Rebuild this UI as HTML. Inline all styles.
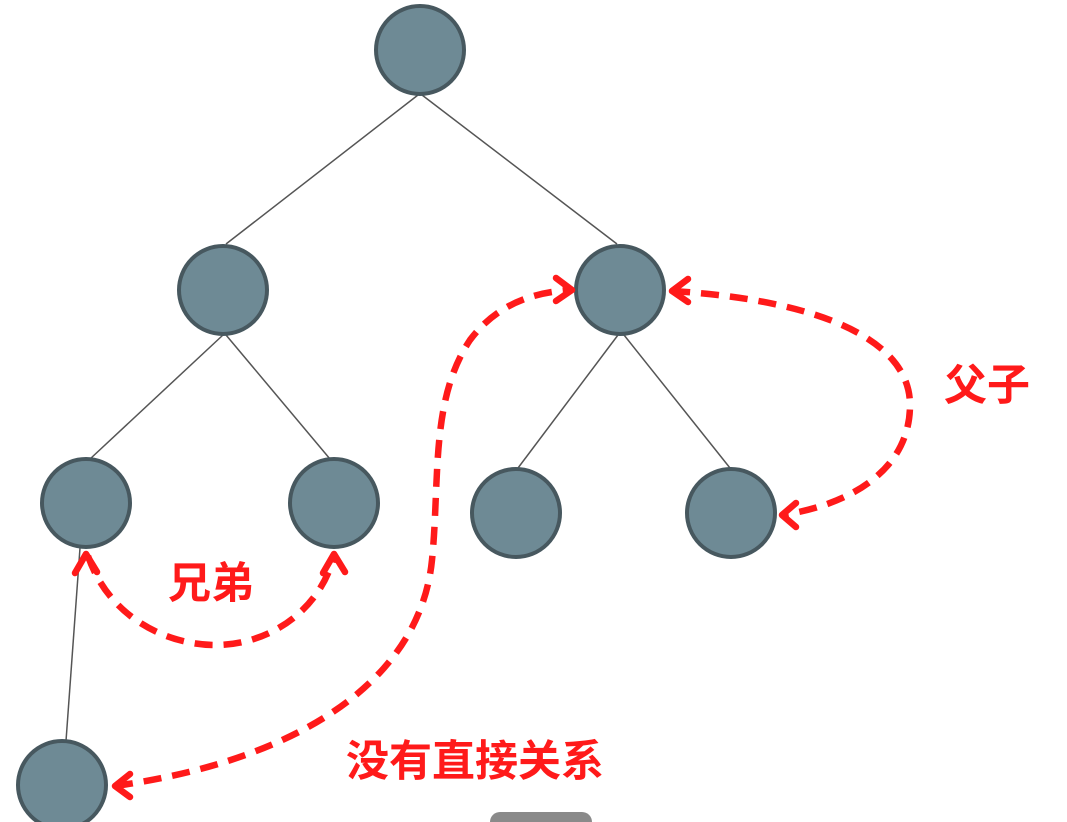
<!DOCTYPE html>
<html><head><meta charset="utf-8"><style>
html,body{margin:0;padding:0;background:#fff;width:1067px;height:822px;overflow:hidden}
text{font-family:"Liberation Sans","Noto Sans CJK SC",sans-serif;font-weight:bold;fill:#ff1a1a;font-size:43px}
</style></head><body>
<svg width="1067" height="822" viewBox="0 0 1067 822">
<g stroke="#555" stroke-width="1.5" fill="none">
<line x1="418" y1="95" x2="226" y2="244"/>
<line x1="422" y1="95" x2="617" y2="244"/>
<line x1="223" y1="335" x2="90" y2="459"/>
<line x1="226" y1="335" x2="330" y2="459"/>
<line x1="618" y1="335" x2="518" y2="468"/>
<line x1="624" y1="335" x2="730" y2="468"/>
<line x1="80" y1="548" x2="66" y2="741"/>
</g>
<g fill="#6e8a95" stroke="#47585f" stroke-width="4">
<circle cx="420" cy="50" r="44"/>
<circle cx="223" cy="290" r="44"/>
<circle cx="620" cy="290" r="44"/>
<circle cx="86" cy="503" r="44"/>
<circle cx="334" cy="503" r="44"/>
<circle cx="516" cy="513" r="44"/>
<circle cx="731" cy="513" r="44"/>
<circle cx="62" cy="785" r="44"/>
</g>
<g stroke="#ff1a1a" stroke-width="6.5" fill="none" stroke-dasharray="18 11">
<path d="M672 291 C 820 300, 910 340, 910 405 C 910 470, 850 505, 782 515"/>
<path d="M88 556 C 110 620, 170 645, 215 645 C 270 645, 320 610, 334 556"/>
<path d="M115 786 C 300 760, 420 680, 432 560 C 440 480, 430 400, 470 340 C 500 300, 540 292, 570 290"/>
</g>
<g stroke="#ff1a1a" stroke-width="6.5" fill="none" stroke-linecap="round" stroke-linejoin="round">
<polyline points="688,279 672,291 688,302"/>
<polyline points="796,503 782,515 796,527"/>
<polyline points="75,573 86,554 97,572"/>
<polyline points="323,573 334,554 345,572"/>
<polyline points="130,774 115,786 130,797"/>
<polyline points="556,278 572,290 556,301"/>
</g>
<text x="944" y="400">父子</text>
<text x="168" y="598">兄弟</text>
<text x="346" y="776">没有直接关系</text>
<rect x="490" y="812" width="102" height="20" rx="10" fill="#8a8a8a"/>
</svg>
</body></html>
